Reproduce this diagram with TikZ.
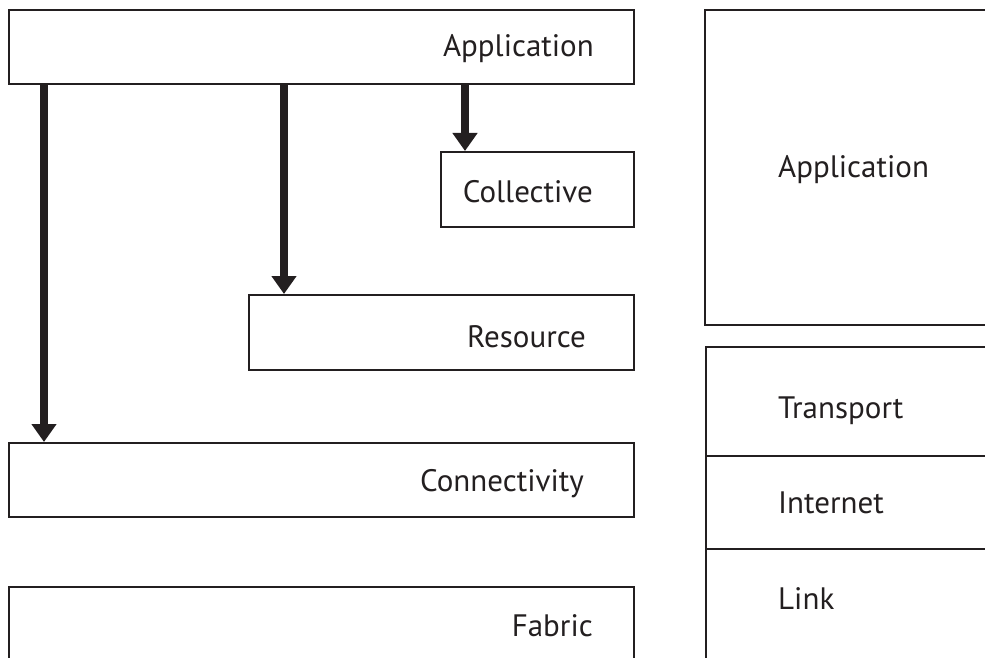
\documentclass[tikz,border=0pt]{standalone}
\usepackage{fontspec}
\setmainfont{PT Sans}
\usetikzlibrary{arrows.meta}
\definecolor{ink}{RGB}{35,31,32}
\tikzset{
  box/.style={draw=ink, line width=2.3pt, fill=white, rectangle, inner sep=0pt, anchor=north west},
  lbl/.style={text=ink, inner sep=0pt, font=\fontsize{31}{36}\selectfont},
  arr/.style={draw=ink, line width=8pt, -{Triangle[width=24pt,length=18pt]}}
}
\begin{document}
\begin{tikzpicture}[x=1pt,y=-1pt]
\useasboundingbox (0,0) rectangle (985,658);
\clip (0,0) rectangle (985,658);
\fill[white] (0,0) rectangle (985,658);
% left stack
\node[box, minimum width=625pt, minimum height=74pt] (app) at (8,9) {};
\node[box, minimum width=193pt, minimum height=75pt] (coll) at (440,151) {};
\node[box, minimum width=385pt, minimum height=75pt] (res) at (248,294) {};
\node[box, minimum width=625pt, minimum height=74pt] (conn) at (8,442) {};
\node[box, minimum width=625pt, minimum height=120pt] (fab) at (8,586) {};
\node[lbl, anchor=base east] (tapp) at (594,57) {Application};
\node[lbl, anchor=base east] (tcoll) at (593,202) {Collective};
\node[lbl, anchor=base east] (tres) at (586,347) {Resource};
\node[lbl, anchor=base east] (tconn) at (584,491) {Connectivity};
\node[lbl, anchor=base east] (tfab) at (593,636) {Fabric};
% arrows
\coordinate (a1) at ([xshift=36pt]app.south west);
\coordinate (a2) at ([xshift=276pt]app.south west);
\coordinate (a3) at ([xshift=457pt]app.south west);
\draw[arr] (a1) -- (a1 |- conn.north);
\draw[arr] (a2) -- (a2 |- res.north);
\draw[arr] (a3) -- (a3 |- coll.north);
% right stack
\node[box, minimum width=320pt, minimum height=315pt] (rapp) at (704,9) {};
\node[box, minimum width=320pt, minimum height=109pt] (rtra) at (705,346) {};
\node[box, minimum width=320pt, minimum height=93pt] (rint) at (705,455) {};
\node[box, minimum width=320pt, minimum height=150pt] (rlink) at (705,548) {};
\node[lbl, anchor=base west] (trapp) at (778,177) {Application};
\node[lbl, anchor=base west] (trtra) at (778,418) {Transport};
\node[lbl, anchor=base west] (trint) at (778,513) {Internet};
\node[lbl, anchor=base west] (trlink) at (778,609) {Link};
\end{tikzpicture}
\end{document}
